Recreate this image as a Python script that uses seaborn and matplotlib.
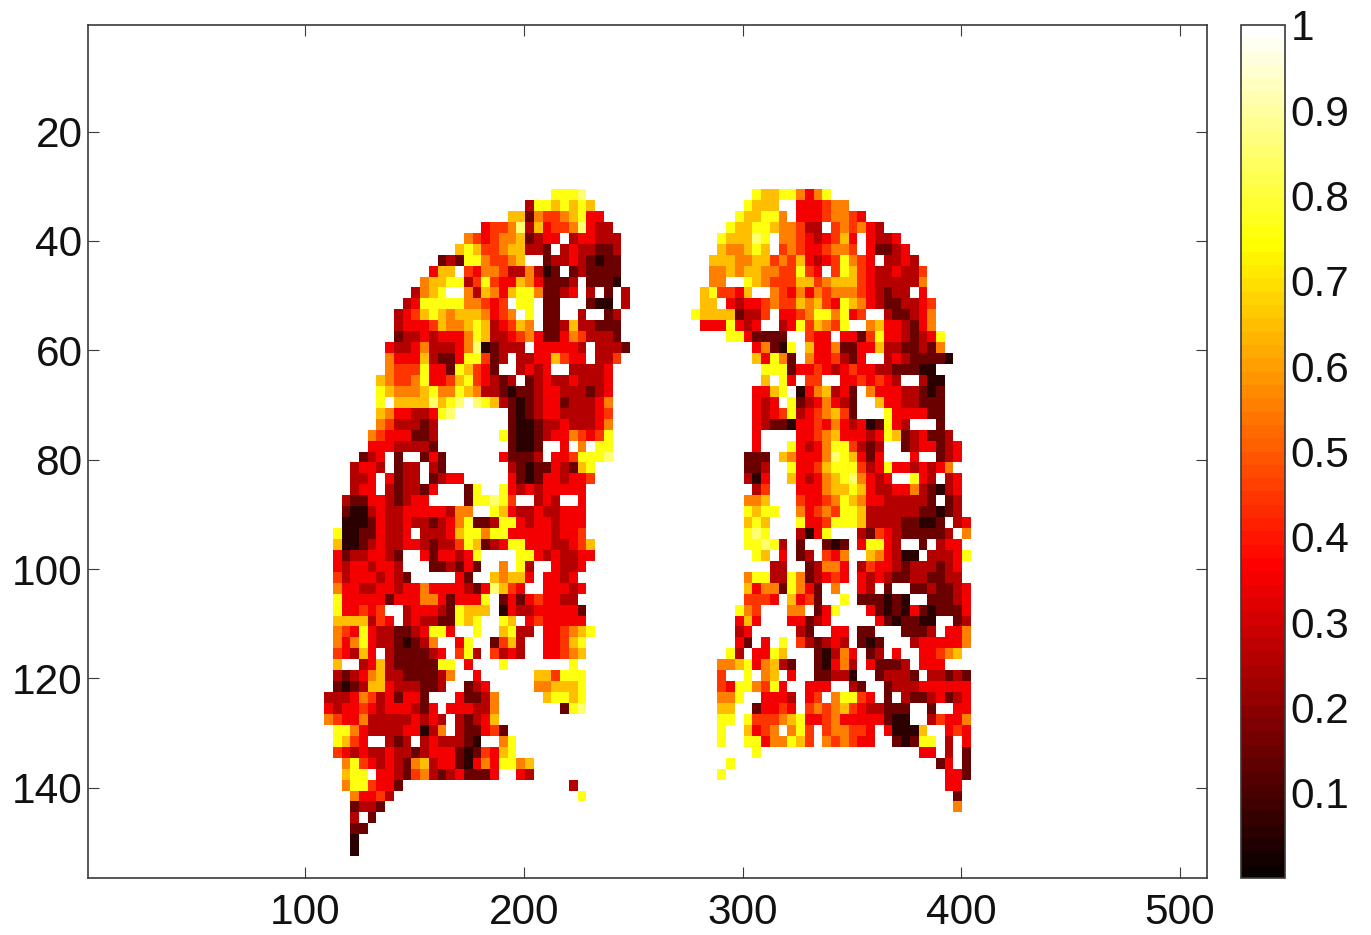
import numpy as np
import pandas as pd
import matplotlib
matplotlib.use("Agg")
import matplotlib.pyplot as plt
import seaborn as sns

# values, one digit per cell (digit d = d.5 tenths, "." = empty)
left_lung = [
    "..........................7778",
    ".......................27767676",
    ".....................66154456733",
    "..................344582634458322",
    "................54345561233.233222",
    "...............67644566221.2322112",
    ".............1217754456..122321011",
    "............366.43554225201.121111",
    "...........566772474336531112.1110",
    "..........2567..5265367751123.2.1.2",
    ".........237777755434.77.11...100.2",
    "........23467656665345.7.11..2..12.",
    "........2333465567623465.112622111",
    "........12232333576223453113542221",
    ".......3223522235801222.333332.2221",
    ".......53336211377412.22336433.224",
    ".......5444733176431..2323..22223",
    "......6544573346743212.1232232223",
    "......765556755765221011233222123",
    "......7.66668678.8762101233122235",
    "......653322378......101233222234",
    "......5422212........100122322235",
    ".....54333112.......7100123354347",
    ".....33322221........1001..3.5.77",
    "....123.1..131......31112.3347778",
    "...2332.122.21.......2101132167",
    "...223.3122.1233.....3101332334",
    "...233.212213...17..7323233333",
    "..2113321233....177874..232..3",
    "..100232233333255..76322322333",
    "..0001322322123571127732332333",
    ".700113223.2223677577333332334",
    ".600123223321224761237733322346",
    ".31223321..3133237....773232233",
    ".32332332...112131..5.72..3223",
    ".423332321.....31..65663.3323.",
    ".5332233233533332138643..33323",
    ".733333133355313337.131343322",
    ".733434..2333217666.0322333331",
    ".6666243.232211767..76.3433333",
    ".54373221123773..7..6722.334567",
    ".535732210125..37..1462..33467",
    ".43263.2111123.472.4232..33456",
    ".6..23621111177.3...7.......7",
    ".21235622111125..3......664777",
    ".1012663222112..123.....556667",
    "222354231331...31125.....67767",
    "3233432333213.333225.......178",
    "54335222223232.21236",
    ".7753222233025.211341",
    ".7643..212.2322210..57",
    ".432322322123331014367",
    "..5743232156233103537756",
    "..677.33214521231113..32",
    "..5774331...................2",
    "...53342.....................7",
    "...1221",
    "...2.1",
    "...11",
    "...0",
    "...0",
]

right_lung = [
    ".......766775357",
    "......7666..333455",
    ".....766775.33345543",
    "....76677655422.454532",
    "...766687.554323463.3223",
    "...655676.454334554.31123",
    "..6665566454632347543.2232",
    "..5565665544743.47643223224",
    "..55..765444664566643222225",
    ".674436..5435354555432122.3",
    ".66.323345446564376532112234",
    "766661224.3345775734..211235",
    ".3337323..23746547..56332135",
    "....7731111..433.331473321237",
    ".......35107.6335113362211215",
    ".......63751.5334213..23211110",
    "........77713343234332211100",
    "........6.73.44..3343432..200",
    ".......3367.0356231.533322101",
    ".......323.71235321..63322111",
    ".......323472345641...7333311",
    ".......321103343532301732...1",
    ".......3....334563332376123112",
    ".......3...73235774212..1233123",
    "......111.653335876313...3..123",
    "......112..7334677742373323235",
    "......203..632356785323..732.23",
    ".......24...3335667632233521023",
    "......556...4334576533222221.12",
    "......7677..5345477622222211012",
    "......676...73347776222211001.23",
    "......787...2037...21432111112.5",
    "......77872.1..101.37732..1.233",
    ".......76.3.12.435..653200.22237",
    ".........22..12553.243321222123",
    "......577227512343.323211221122",
    "......635517531.5..32.1..1121123",
    "......4443.6341..7.111010..11123",
    ".....754...55.137...310103101113",
    ".....363...33123.....3101100..12",
    ".....23.....21..33.11...1112.335",
    ".....31.3.7.421232.101...2333335",
    "....72.3376...10253.12.3..33456",
    "...556735621..10352.31112.333",
    "...4..7.56.3..11220..12221.22121",
    "...43775473..333..21..1222333333",
    "...557..3332.34.57743.1.21123123",
    "...66..13343.454564322111..1..33",
    "...77.7444567334533333100..24335",
    "...7..6345.574.455443.30006..343",
    "...7..77355764.545433..10177.2.3",
    ".......7..................33.2.1",
    "....7.......................13.1",
    "...7.........................331",
    ".............................33",
    "..............................1",
    "..............................5",
]

x_ticks = [100, 200, 300, 400, 500]
y_ticks = [20, 40, 60, 80, 100, 120, 140]
cbar_ticks = [0.1, 0.2, 0.3, 0.4, 0.5, 0.6, 0.7, 0.8, 0.9, 1]
cbar_labels = ["0.1", "0.2", "0.3", "0.4", "0.5", "0.6", "0.7", "0.8", "0.9", "1"]

N_ROWS, N_COLS = 78, 128
CELL_X, CELL_Y = 4, 2
FIRST_ROW, LEFT_COL, RIGHT_COL = 15, 27, 69
DARK = "#3a3a3a"


def fill(grid, rows, col0):
    for r, row in enumerate(rows):
        for c, ch in enumerate(row):
            if ch != ".":
                grid[FIRST_ROW + r, col0 + c] = (int(ch) + 0.5) / 10


grid = np.full((N_ROWS, N_COLS), np.nan)
fill(grid, left_lung, LEFT_COL)
fill(grid, right_lung, RIGHT_COL)
df = pd.DataFrame(grid)

sns.set_style("white")
plt.rcParams["font.family"] = ["Liberation Sans", "DejaVu Sans"]

W, H = 1371, 935
fig = plt.figure(figsize=(W / 100, H / 100), dpi=100)
ax = fig.add_axes([88 / W, 1 - 878 / H, (1207 - 88) / W, (878 - 25) / H])
cax = fig.add_axes([1241 / W, 1 - 878 / H, (1285 - 1241) / W, (878 - 25) / H])

sns.heatmap(df, ax=ax, cbar_ax=cax, cmap=plt.get_cmap("hot", 64), vmin=0, vmax=1,
            xticklabels=False, yticklabels=False)

ax.set_xticks([(v - 0.5) / CELL_X for v in x_ticks])
ax.set_xticklabels(x_ticks)
ax.set_yticks([(v - 0.5) / CELL_Y for v in y_ticks])
ax.set_yticklabels(y_ticks, rotation=0)
ax.tick_params(axis="both", which="major", direction="in", length=8, width=0.8, color=DARK,
               labelsize=30.5, labelcolor="#111111", top=True, right=True, bottom=True, left=True)
ax.tick_params(axis="x", pad=11)
ax.tick_params(axis="y", pad=4)
for s in ax.spines.values():
    s.set_visible(True)
    s.set_color(DARK)
    s.set_linewidth(1.2)

cb = ax.collections[0].colorbar
cb.set_ticks(cbar_ticks)
cb.set_ticklabels(cbar_labels)
cb.ax.tick_params(direction="in", length=6, width=0.8, color=DARK, left=True, right=True,
                  labelsize=30.5, labelcolor="#111111", pad=4)
cb.outline.set_visible(True)
cb.outline.set_edgecolor(DARK)
cb.outline.set_linewidth(1.2)

fig.savefig("out.png", dpi=100)
